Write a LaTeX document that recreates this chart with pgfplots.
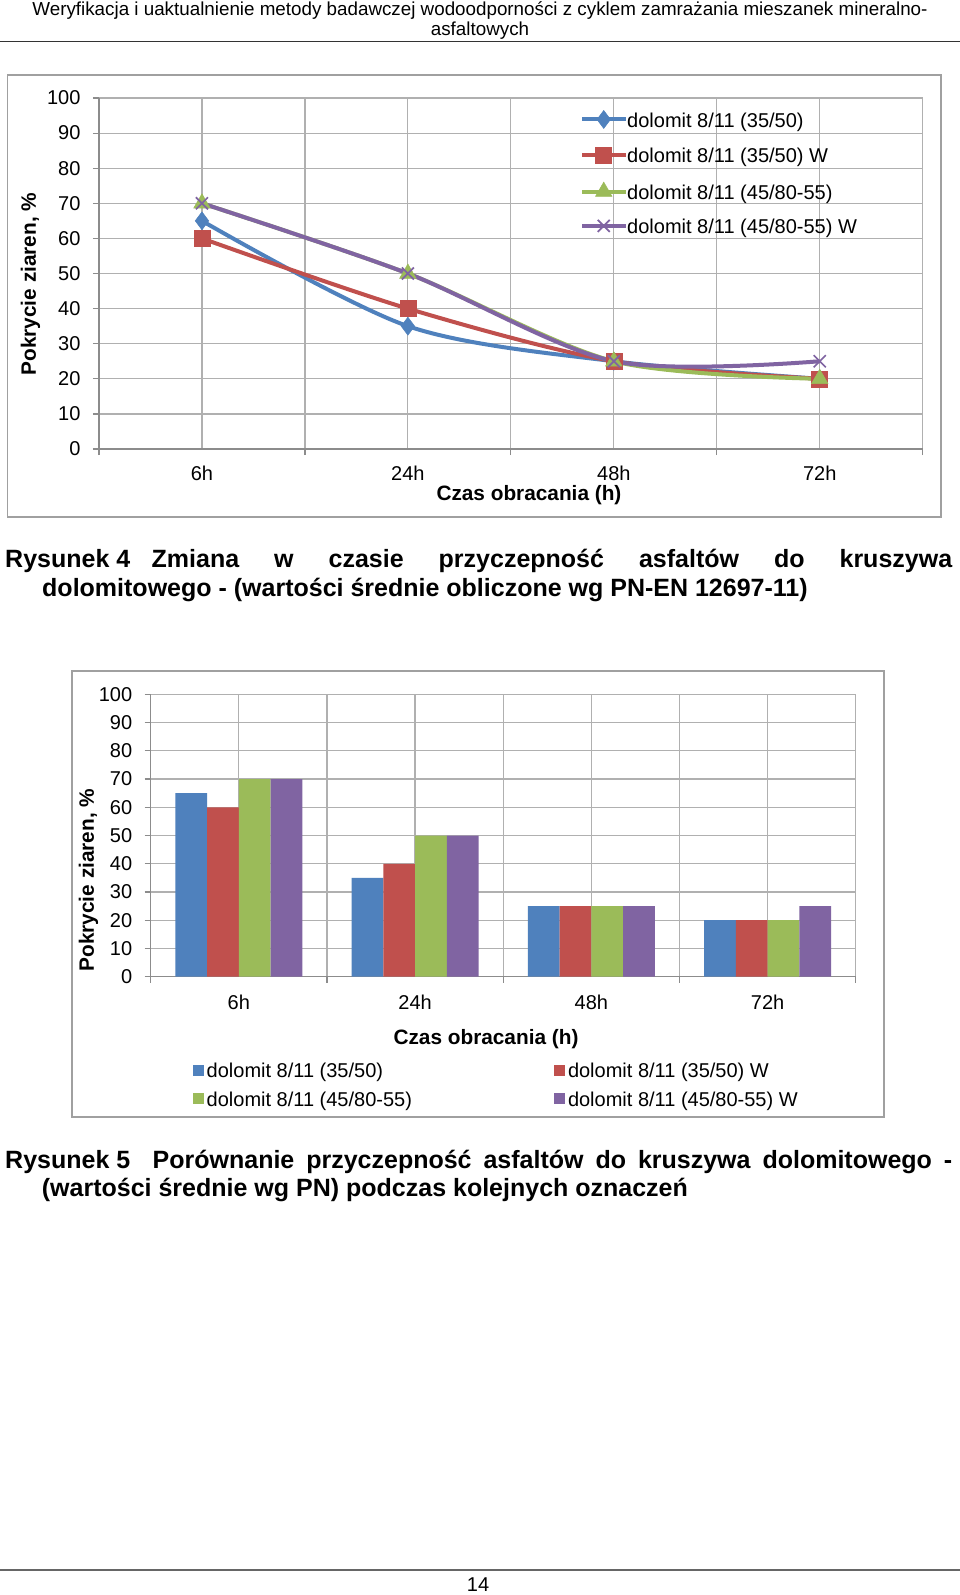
\documentclass[border=0pt]{standalone}
\usepackage{fontspec}
\setmainfont{Liberation Sans}
\usepackage{pgfplots}
\usepackage{pgfplotstable}
\pgfplotsset{compat=1.18}
\definecolor{sblue}{HTML}{4F81BD}
\definecolor{sred}{HTML}{C0504D}
\definecolor{sgreen}{HTML}{9BBB59}
\definecolor{spurple}{HTML}{8064A2}
\definecolor{gridc}{HTML}{B0B0B0}
\definecolor{axc}{HTML}{8C8C8C}
\definecolor{framec}{HTML}{A0A0A0}
\pgfplotstableread{
x blue red green purple
0 65 60 70 70
1 35 40 50 50
2 25 25 25 25
3 20 20 20 25
}\datatable
\newcommand{\cf}{\fontsize{20}{24}\selectfont}
\newcommand{\lf}{\bfseries\fontsize{20.8}{24}\selectfont}
\newcommand{\capf}{\bfseries\fontsize{25}{29}\selectfont}
\pgfplotsset{
  common/.style={
    scale only axis,
    xmin=-0.5, xmax=3.5, ymin=0, ymax=100,
    xtick={0,1,2,3}, xticklabels={6h,24h,48h,72h},
    minor xtick={-0.5,0.5,1.5,2.5,3.5},
    ytick={0,10,...,100},
    xmajorgrids, xminorgrids, ymajorgrids,
    major grid style={gridc, line width=1.2pt},
    minor grid style={gridc, line width=1.2pt},
    axis lines*=left,
    axis line style={axc, line width=1.3pt, -},
    tick align=outside,
    major tick length=6pt, minor tick length=6pt,
    major x tick style={draw=none},
    every tick/.style={axc, line width=1.2pt},
    tick label style={font=\cf},
    yticklabel style={xshift=-9pt},
    /pgf/number format/assume math mode=true,
  }
}
\begin{document}
\begin{tikzpicture}
\fill[white] (0,0) rectangle (960pt,-1595pt);
\path[use as bounding box] (0,0) rectangle (960pt,-1595pt);
% header
\node[font=\fontsize{18.8}{21}\selectfont, inner sep=0pt] at (480pt,-10.5pt) {Weryfikacja i uaktualnienie metody badawczej wodoodporności z cyklem zamrażania mieszanek mineralno-};
\node[font=\fontsize{18.8}{21}\selectfont, inner sep=0pt] at (480pt,-30.5pt) {asfaltowych};
\draw[line width=1.5pt, black!80] (0pt,-41.7pt) -- (960pt,-41.7pt);

% chart 1
\draw[framec, line width=1.6pt] (7.5pt,-75pt) rectangle (941pt,-517pt);
\begin{axis}[common,
  at={(99pt,-449pt)}, anchor=south west, width=823.7pt, height=351pt,
  xticklabel style={yshift=-7pt},
  xlabel={Czas obracania (h)},
  ylabel={Pokrycie ziaren, \%},
  every axis x label/.style={at={(axis description cs:0.522,-0.132)}, anchor=center, font=\lf},
  every axis y label/.style={at={(axis description cs:-0.0832,0.47)}, rotate=90, anchor=center, font=\lf},
  legend style={at={(axis description cs:0.584,0.965)}, anchor=north west, draw=none, fill=none,
    font=\cf, inner sep=0pt, row sep=14.3pt, nodes={inner sep=0pt, text height=15pt, text depth=5pt}},
  legend cell align=left,
  legend image code/.code={\draw[#1, mark repeat=2, mark phase=2] plot coordinates {(0pt,3pt) (21.5pt,3pt) (43pt,3pt)};},
]
\addplot[sblue, line width=4pt, smooth, mark=diamond*, mark size=9pt, mark options={solid, fill=sblue, line width=0.5pt}] table[x=x,y=blue]{\datatable};
\addlegendentry{dolomit 8/11 (35/50)}
\addplot[sred, line width=4pt, smooth, mark=square*, mark size=8pt, mark options={solid, fill=sred, line width=0.5pt}] table[x=x,y=red]{\datatable};
\addlegendentry{dolomit 8/11 (35/50) W}
\addplot[sgreen, line width=4pt, smooth, mark=triangle*, mark size=9.5pt, mark options={solid, fill=sgreen, line width=0.5pt}] table[x=x,y=green]{\datatable};
\addlegendentry{dolomit 8/11 (45/80-55)}
\addplot[spurple, line width=4pt, smooth, mark=x, mark size=8.5pt, mark options={solid, line width=1.7pt}] table[x=x,y=purple]{\datatable};
\addlegendentry{dolomit 8/11 (45/80-55) W}
\end{axis}

\node[anchor=base west, font=\capf, inner sep=0pt] at (5pt,-567pt) {\makebox[947pt][s]{\makebox[146.5pt][l]{Rysunek 4}Zmiana w czasie przyczepność asfaltów do kruszywa}};
\node[anchor=base west, font=\capf, inner sep=0pt] at (42pt,-596.5pt) {dolomitowego - (wartości średnie obliczone wg PN-EN 12697-11)};

% chart 2
\draw[framec, line width=1.6pt] (71.7pt,-671pt) rectangle (884pt,-1116.7pt);
\begin{axis}[common,
  at={(150.7pt,-976.7pt)}, anchor=south west, width=705pt, height=282.4pt,
  ybar=0pt, bar width=0.18,
  xticklabel style={yshift=-9pt},
  xlabel={Czas obracania (h)},
  ylabel={Pokrycie ziaren, \%},
  every axis x label/.style={at={(axis description cs:0.4756,-0.2226)}, anchor=center, font=\lf},
  every axis y label/.style={at={(axis description cs:-0.0882,0.342)}, rotate=90, anchor=center, font=\lf},
  legend columns=2,
  legend style={at={(axis description cs:0.0593,-0.3027)}, anchor=north west, draw=none, fill=none,
    font=\cf, inner sep=0pt, row sep=8.8pt, nodes={inner sep=0pt, text height=15pt, text depth=5pt},
    /tikz/every odd column/.append style={column sep=3pt},
    /tikz/every even column/.append style={column sep=142pt}},
  legend cell align=left,
  legend image code/.code={\fill[#1] (0pt,-3.3pt) rectangle (11pt,7.7pt);},
]
\addplot[fill=sblue, draw=none] table[x=x,y=blue]{\datatable};
\addlegendentry{dolomit 8/11 (35/50)}
\addplot[fill=sred, draw=none] table[x=x,y=red]{\datatable};
\addlegendentry{dolomit 8/11 (35/50) W}
\addplot[fill=sgreen, draw=none] table[x=x,y=green]{\datatable};
\addlegendentry{dolomit 8/11 (45/80-55)}
\addplot[fill=spurple, draw=none] table[x=x,y=purple]{\datatable};
\addlegendentry{dolomit 8/11 (45/80-55) W}
\end{axis}

\node[anchor=base west, font=\capf, inner sep=0pt] at (5pt,-1168pt) {\makebox[947pt][s]{\makebox[147.5pt][l]{Rysunek 5}Porównanie przyczepność asfaltów do kruszywa dolomitowego -}};
\node[anchor=base west, font=\capf, inner sep=0pt] at (41.7pt,-1196.5pt) {(wartości średnie wg PN) podczas kolejnych oznaczeń};

% footer
\draw[line width=2pt, black!60] (0pt,-1569.6pt) -- (960pt,-1569.6pt);
\node[font=\fontsize{20}{24}\selectfont, inner sep=0pt] at (478pt,-1585pt) {14};
\end{tikzpicture}
\end{document}
